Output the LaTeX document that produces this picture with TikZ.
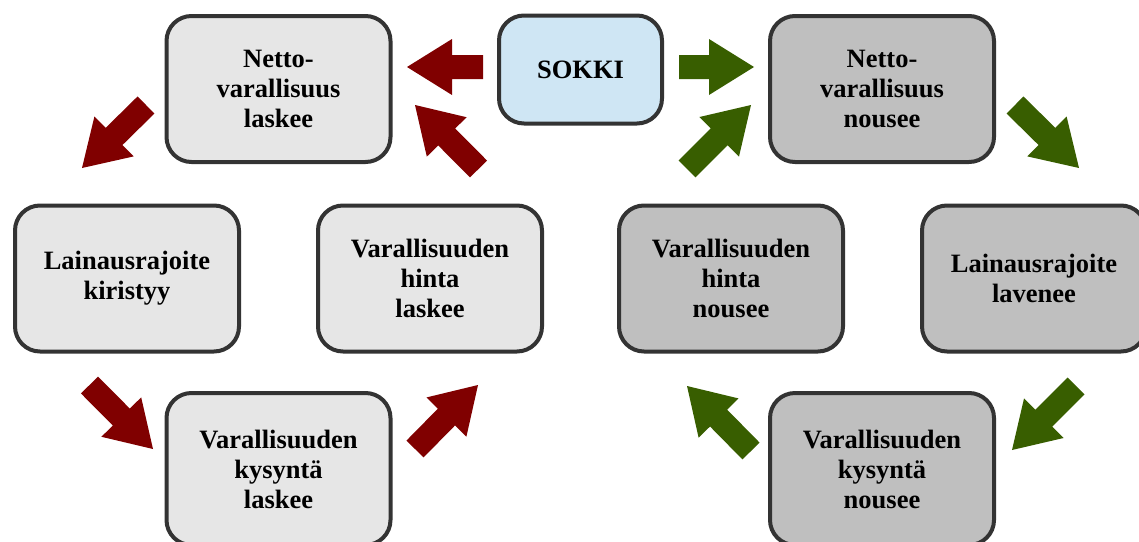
\documentclass[tikz,border=0pt]{standalone}
\usepackage{fontspec}
\setmainfont{Liberation Serif}
\usetikzlibrary{calc}
\definecolor{boxline}{HTML}{333333}
\definecolor{lgray}{HTML}{E6E6E6}
\definecolor{dgray}{HTML}{BFBFBF}
\definecolor{lblue}{HTML}{CFE6F4}
\definecolor{redarr}{HTML}{800000}
\definecolor{greenarr}{HTML}{385E00}
\tikzset{
  box/.style={draw=boxline, line width=4pt, rounded corners=25pt,
    minimum width=224pt, minimum height=146pt, align=center, inner sep=0pt,
    font=\bfseries\fontsize{26.5}{30}\selectfont},
  lbox/.style={box, fill=lgray},
  dbox/.style={box, fill=dgray},
  tallbox/.style={minimum height=152pt},
  sbox/.style={box, fill=lblue, minimum width=163pt, minimum height=108pt},
  redfill/.style={fill=redarr},
  greenfill/.style={fill=greenarr}
}
% #1 style, #2 tail coordinate, #3 tip coordinate
\newcommand\blockarrow[3]{%
  \coordinate (hb) at ($(#3)!45pt!(#2)$);
  \fill[#1] ($(#2)!12pt!90:(#3)$) -- ($(hb)!12pt!90:(#3)$) -- ($(hb)!28pt!90:(#3)$)
    -- (#3) -- ($(hb)!28pt!-90:(#3)$) -- ($(hb)!12pt!-90:(#3)$)
    -- ($(#2)!12pt!-90:(#3)$) -- cycle;
}
\begin{document}
\begin{tikzpicture}[x=1pt,y=-1pt]
\useasboundingbox (0,0) rectangle (1139,541);
% boxes
\node[sbox] (sokki) at (580.5,69.5) {SOKKI};
\node[lbox] (nl) at (278.5,89) {Netto-\\varallisuus\\laskee};
\node[dbox] (nn) at (882,89) {Netto-\\varallisuus\\nousee};
\node[lbox] (kir) at (127,278.5) {Lainausrajoite\\kiristyy};
\node[lbox] (hl) at (430,278.5) {Varallisuuden\\hinta\\laskee};
\node[dbox] (hn) at (731,278.5) {Varallisuuden\\hinta\\nousee};
\node[dbox] (lav) at (1034,278.5) {Lainausrajoite\\lavenee};
\node[lbox, tallbox] (kl) at (278.5,469) {Varallisuuden\\kysyntä\\laskee};
\node[dbox, tallbox] (kn) at (882,469) {Varallisuuden\\kysyntä\\nousee};
% arrow end points
\coordinate (a1s) at (483,67);   \coordinate (a1t) at (407,67);
\coordinate (a2s) at (146,105);  \coordinate (a2t) at (82,168);
\coordinate (a3s) at (89.5,385); \coordinate (a3t) at (153,449);
\coordinate (a4s) at (415,449);  \coordinate (a4t) at (478,385);
\coordinate (a5s) at (478.5,169);\coordinate (a5t) at (415,105);
\coordinate (b1s) at (679,67);   \coordinate (b1t) at (754,67);
\coordinate (b2s) at (1015,105); \coordinate (b2t) at (1079,168);
\coordinate (b3s) at (1076,386); \coordinate (b3t) at (1012,450);
\coordinate (b4s) at (751,451);  \coordinate (b4t) at (687,386);
\coordinate (b5s) at (687,169);  \coordinate (b5t) at (751,105);
% red loop
\blockarrow{redfill}{a1s}{a1t}
\blockarrow{redfill}{a2s}{a2t}
\blockarrow{redfill}{a3s}{a3t}
\blockarrow{redfill}{a4s}{a4t}
\blockarrow{redfill}{a5s}{a5t}
% green loop
\blockarrow{greenfill}{b1s}{b1t}
\blockarrow{greenfill}{b2s}{b2t}
\blockarrow{greenfill}{b3s}{b3t}
\blockarrow{greenfill}{b4s}{b4t}
\blockarrow{greenfill}{b5s}{b5t}
\end{tikzpicture}
\end{document}
